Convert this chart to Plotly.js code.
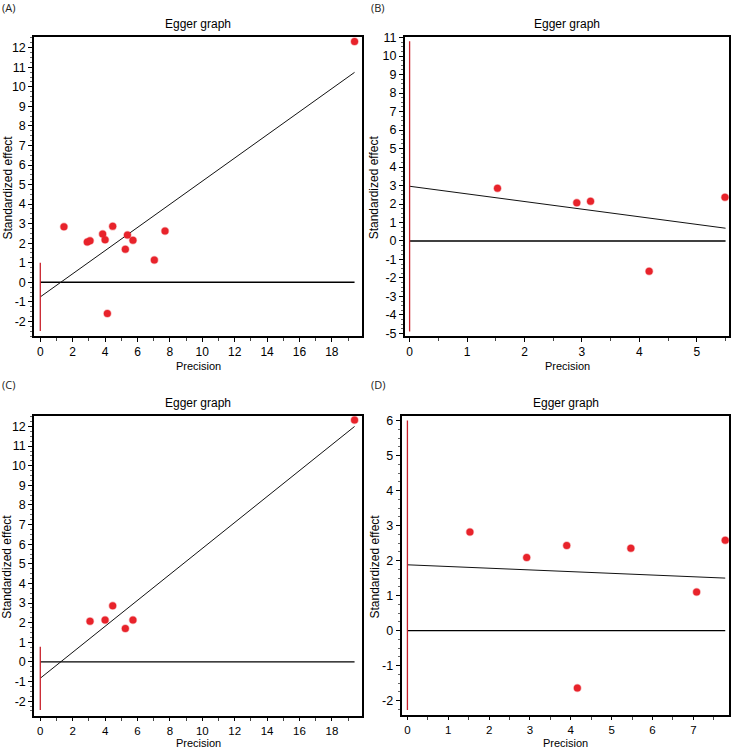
<!DOCTYPE html>
<html>
<head>
<meta charset="utf-8">
<script src="https://cdn.plot.ly/plotly-3.0.1.min.js"></script>
<style>html,body{margin:0;padding:0;background:#fff;}#chart{width:732px;height:749px;}</style>
</head>
<body>
<div id="chart"></div>
<script>
// ---------- data ----------
// Panel A
const precA = [1.46, 2.90, 3.07, 3.85, 4.00, 4.14, 4.47, 5.25, 5.38, 5.72, 7.04, 7.70, 19.40];
const effA  = [2.84, 2.06, 2.12, 2.47, 2.18, -1.60, 2.86, 1.69, 2.42, 2.15, 1.14, 2.62, 12.32];
const fitAx = [0, 19.4];
const fitAy = [-0.75, 10.74];
const ciAy  = [1.0, -2.5];
// Panel B
const precB = [1.53, 2.91, 3.15, 4.17, 5.49];
const effB  = [2.85, 2.07, 2.15, -1.64, 2.37];
const fitBx = [0, 5.5];
const fitBy = [2.96, 0.69];
const ciBy  = [10.8, -4.9];
// Panel C
const precC = [3.07, 4.00, 4.47, 5.25, 5.72, 19.40];
const effC  = [2.08, 2.14, 2.86, 1.70, 2.14, 12.33];
const fitCx = [0, 19.4];
const fitCy = [-0.83, 12.0];
const ciCy  = [0.78, -2.45];
// Panel D
const precD = [1.53, 2.92, 3.90, 4.16, 5.47, 7.08, 7.78];
const effD  = [2.82, 2.09, 2.43, -1.64, 2.35, 1.10, 2.58];
const fitDx = [0, 7.78];
const fitDy = [1.88, 1.50];
const ciDy  = [6.0, -2.27];

// tick labels
const xTicksAC = [0, 2, 4, 6, 8, 10, 12, 14, 16, 18];
const yTicksAC = [-2, -1, 0, 1, 2, 3, 4, 5, 6, 7, 8, 9, 10, 11, 12];
const yLabelsAC = ["-2", "-1", "0", "1", "2", "3", "4", "5", "6", "7", "8", "9", "10", "11", "12"];
const xTicksB = [0, 1, 2, 3, 4, 5];
const yTicksB = [-5, -4, -3, -2, -1, 0, 1, 2, 3, 4, 5, 6, 7, 8, 9, 10, 11];
const yLabelsB = ["-5", "-4", "-3", "-2", "-1", "0", "1", "2", "3", "4", "5", "6", "7", "8", "9", "10", "11"];
const xTicksD = [0, 1, 2, 3, 4, 5, 6, 7];
const yTicksD = [-2, -1, 0, 1, 2, 3, 4, 5, 6];
const yLabelsD = ["-2", "-1", "0", "1", "2", "3", "4", "5", "6"];

const panelLabels = ["(A)", "(B)", "(C)", "(D)"];
const panelTitle = "Egger graph";
const xTitle = "Precision";
const yTitle = "Standardized effect";

// ---------- drawing ----------
const W = 732, H = 749;
const RED = "#e8232b";
const CIRED = "#c8202a";
const FONT = "Liberation Sans, Arial, sans-serif";

const panels = [
  {px: precA, py: effA, fx: fitAx, fy: fitAy, ci: ciAy, xr: [-0.37, 19.86], yr: [-2.75, 12.55],
   dom: [34.3, 362, 37, 336], xt: xTicksAC, yt: yTicksAC, yl: yLabelsAC, xminor: 1, yminor: 0.25, xty: 366, xtf: 12, xtl: 4},
  {px: precB, py: effB, fx: fitBx, fy: fitBy, ci: ciBy, xr: [-0.08, 5.56], yr: [-5.14, 11.05],
   dom: [405, 729, 36.7, 336], xt: xTicksB, yt: yTicksB, yl: yLabelsB, xminor: 0.5, yminor: 0.25, xty: 366, xtf: 12, xtl: 4},
  {px: precC, py: effC, fx: fitCx, fy: fitCy, ci: ciCy, xr: [-0.37, 19.86], yr: [-2.74, 12.55],
   dom: [34.3, 362, 415.7, 715.7], xt: xTicksAC, yt: yTicksAC, yl: yLabelsAC, xminor: 1, yminor: 0.25, xty: 742.6, xtf: 11.5, xtl: 3},
  {px: precD, py: effD, fx: fitDx, fy: fitDy, ci: ciDy, xr: [-0.14, 7.88], yr: [-2.42, 6.14],
   dom: [401.7, 729.3, 415.7, 715.3], xt: xTicksD, yt: yTicksD, yl: yLabelsD, xminor: 0.5, yminor: 0.25, xty: 742.6, xtf: 11.5, xtl: 3}
];

const traces = [];
const layout = {
  width: W, height: H,
  margin: {l: 0, r: 0, t: 0, b: 0},
  paper_bgcolor: "#fff", plot_bgcolor: "#fff",
  showlegend: false,
  font: {family: FONT, size: 12, color: "#000"},
  annotations: []
};

panels.forEach((p, i) => {
  const n = i + 1;
  const xa = "x" + (n === 1 ? "" : n), ya = "y" + (n === 1 ? "" : n);
  const xk = "xaxis" + (n === 1 ? "" : n), yk = "yaxis" + (n === 1 ? "" : n);
  // zero line
  traces.push({x: [p.fx[0], p.fx[1]], y: [0, 0], xaxis: xa, yaxis: ya, mode: "lines",
    line: {color: "#000", width: 1.3}, hoverinfo: "skip"});
  // regression line
  traces.push({x: p.fx, y: p.fy, xaxis: xa, yaxis: ya, mode: "lines",
    line: {color: "#111", width: 1}, hoverinfo: "skip"});
  // intercept CI
  traces.push({x: [0, 0], y: p.ci, xaxis: xa, yaxis: ya, mode: "lines",
    line: {color: CIRED, width: 1.3}, hoverinfo: "skip"});
  // points
  traces.push({x: p.px, y: p.py, xaxis: xa, yaxis: ya, mode: "markers",
    marker: {color: RED, size: 7, symbol: "circle", line: {color: "rgba(232,35,43,0.35)", width: 1.5}}});

  const [x0, x1, y0, y1] = p.dom;
  layout[xk] = {
    domain: [x0 / W, x1 / W], range: p.xr, anchor: ya,
    tickmode: "array", tickvals: p.xt, ticktext: p.xt.map(String),
    ticks: "outside", ticklen: p.xtl, tickwidth: 1, tickcolor: "#000",
    minor: {dtick: p.xminor, tick0: 0, ticks: "outside", ticklen: 3, tickcolor: "#444", showgrid: false},
    showline: true, linecolor: "#000", linewidth: 2, mirror: true,
    showgrid: false, zeroline: false,
    tickfont: {family: FONT, size: p.xtf, color: "#000"}
  };
  layout[yk] = {
    domain: [1 - y1 / H, 1 - y0 / H], range: p.yr, anchor: xa,
    tickmode: "array", tickvals: p.yt, ticktext: p.yl,
    ticks: "outside", ticklen: 4, tickwidth: 1, tickcolor: "#000",
    minor: {dtick: p.yminor, tick0: 0, ticks: "outside", ticklen: 2, tickcolor: "#666", showgrid: false},
    showline: true, linecolor: "#000", linewidth: 2, mirror: true,
    showgrid: false, zeroline: false,
    tickfont: {family: FONT, size: 12.5, color: "#000"}
  };

  const cx = (x0 + x1) / 2;
  const cy = (y0 + y1) / 2;
  // title
  layout.annotations.push({text: panelTitle, xref: "paper", yref: "paper",
    x: cx / W, y: 1 - (y0 - 13) / H, xanchor: "center", yanchor: "middle",
    showarrow: false, font: {family: FONT, size: 12, color: "#000"}});
  // x title
  layout.annotations.push({text: xTitle, xref: "paper", yref: "paper",
    x: cx / W, y: 1 - p.xty / H, xanchor: "center", yanchor: "middle",
    showarrow: false, font: {family: FONT, size: 11, color: "#000"}});
  // y title
  layout.annotations.push({text: yTitle, xref: "paper", yref: "paper",
    x: (i % 2 === 0 ? 7 : 374) / W, y: 1 - (cy + 1) / H, xanchor: "center", yanchor: "middle",
    textangle: -90, showarrow: false, font: {family: FONT, size: 12, color: "#000"}});
  // panel label
  layout.annotations.push({text: panelLabels[i], xref: "paper", yref: "paper",
    x: (i % 2 === 0 ? 0 : 369) / W, y: 1 - (i < 2 ? 7 : 384) / H, xanchor: "left", yanchor: "middle",
    showarrow: false, font: {family: "Open Sans, sans-serif", size: 11, color: "#222"}});
});

Plotly.newPlot("chart", traces, layout, {displayModeBar: false, staticPlot: true});
</script>
</body>
</html>
